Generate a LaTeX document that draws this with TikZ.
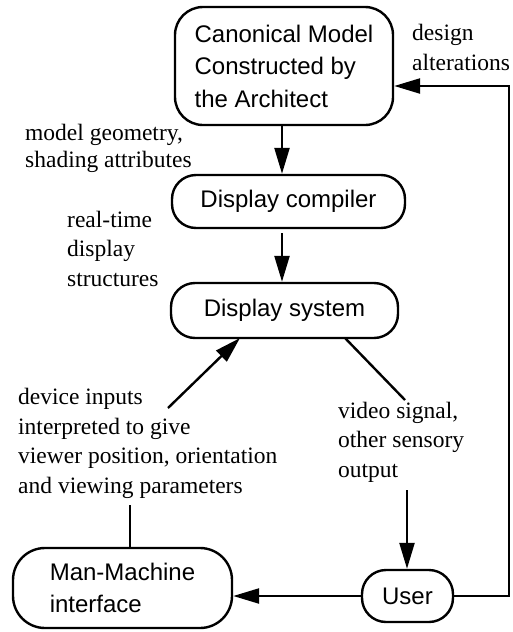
\documentclass[tikz,border=0pt]{standalone}
\usepackage{fontspec}
\setmainfont{Liberation Serif}
\setsansfont{Liberation Sans}
\usetikzlibrary{arrows.meta}
\begin{document}
\begin{tikzpicture}[x=1pt,y=-1pt,
  box/.style={draw, line width=2.4pt, rounded corners=#1, inner sep=0pt, align=left, font={\sffamily\fontsize{24}{32.5}\selectfont}},
  box/.default=24pt,
  lbl/.style={anchor=base west, inner sep=0pt, align=left, font={\fontsize{23.5}{29.5}\selectfont}},
  arr/.style={line width=2.4pt, line join=miter, -{Triangle[length=26pt,width=15pt]}},
  ln/.style={line width=2.4pt},
  thin/.style={line width=1.8pt}]
\useasboundingbox (0,0) rectangle (512,632);
% boxes
\node[box=28pt, minimum width=218pt, minimum height=118pt] (canon) at (284,66) {Canonical Model\\Constructed by\\the Architect};
\node[box, minimum width=233pt, minimum height=53pt] (comp) at (288.5,201.5) {Display compiler};
\node[box, minimum width=227pt, minimum height=55pt] (dsys) at (284.5,310.5) {Display system};
\node[box=32pt, minimum width=219pt, minimum height=80pt] (mmi) at (122.5,588) {Man-Machine\\interface};
\node[box, minimum width=91pt, minimum height=52pt] (user) at (407.5,596) {User};
% labels (anchored at the baseline of their last line)
\node[lbl] (tdesign) at (412,70) {design\\alterations};
\node[lbl, font={\fontsize{23.5}{26.5}\selectfont}] (tgeom) at (25,167) {model geometry,\\shading attributes};
\node[lbl] (treal) at (67,286) {real-time\\display\\structures};
\node[lbl] (tdev) at (18,493) {device inputs\\interpreted to give\\viewer position, orientation\\and viewing parameters};
\node[lbl] (tvid) at (338,477) {video signal,\\other sensory\\output};
% coordinates
\coordinate (c1) at (282,125);
\coordinate (c2) at (282,233);
\coordinate (din) at (168,408);
\coordinate (dtip) at (240,338);
\coordinate (vsa) at (345,338);
\coordinate (vsb) at (405,400);
\coordinate (vo) at (407,490);
\coordinate (dp) at (130,505);
\coordinate (fb) at (509,86);
% connectors
\draw[arr] (c1 |- canon.south) -- (c1 |- comp.north);
\draw[arr] (c2) -- (c2 |- dsys.north);
\draw[arr] (din) -- (dtip);
\draw[ln] (vsa) -- (vsb);
\draw[arr] (vo) -- (vo |- user.north);
\draw[thin] (dp) -- (dp |- mmi.north);
\draw[arr] (user.west) -- (user.west -| mmi.east);
\draw[arr] (user.east) -| (fb) -- (fb -| canon.east);
\end{tikzpicture}
\end{document}
